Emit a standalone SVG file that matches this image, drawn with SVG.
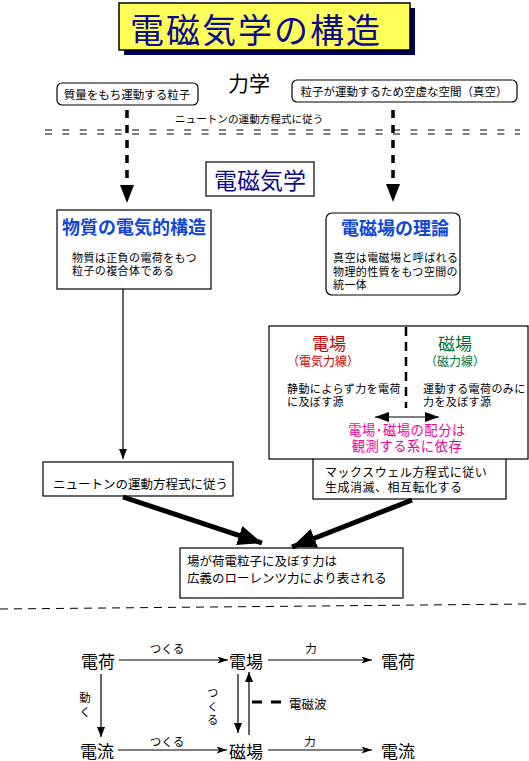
<svg xmlns="http://www.w3.org/2000/svg" width="529" height="761" viewBox="0 0 529 761">
<style>
text{font-family:"Noto Sans CJK JP","Noto Sans CJK SC",sans-serif;fill:#000;dominant-baseline:central}
.box{fill:#fff;stroke:#000;stroke-width:1.2}
.ln{stroke:#000;stroke-width:1.2;fill:none}
.thick{stroke:#000;stroke-width:5;fill:none}
.dv{stroke:#000;stroke-width:3.5;stroke-dasharray:8 7;fill:none}
.hd{font-weight:bold;fill:#1446d6;font-size:18px}
.s11{font-size:11.5px}
.b11{font-size:11px;letter-spacing:0.4px}
.s12{font-size:12.5px}
.m12{font-size:12px;letter-spacing:0.5px}
.big{font-size:17px}
.mg{font-size:13.3px;fill:#f0009a;letter-spacing:0.5px}
</style>
<defs>
<marker id="ah" viewBox="0 0 10 8" refX="10" refY="4" markerWidth="10" markerHeight="8" markerUnits="userSpaceOnUse" orient="auto"><path d="M0,0L10,4L0,8z" fill="#000"/></marker>
<marker id="ahs" viewBox="0 0 12 8" refX="12" refY="4" markerWidth="12" markerHeight="7" markerUnits="userSpaceOnUse" orient="auto"><path d="M0,0L12,4L0,8L3,4z" fill="#000"/></marker>
<marker id="ahb" viewBox="0 0 14 10" refX="14" refY="5" markerWidth="14" markerHeight="10" markerUnits="userSpaceOnUse" orient="auto-start-reverse"><path d="M0,0L14,5L0,10z" fill="#000"/></marker>
<marker id="ahk" viewBox="0 0 24 20" refX="24" refY="10" markerWidth="24" markerHeight="20" markerUnits="userSpaceOnUse" orient="auto"><path d="M0,0L24,10L0,20z" fill="#000"/></marker>
</defs>

<g id="title">
<rect x="124" y="8" width="291" height="47" fill="#000058"/>
<rect x="119" y="3" width="291" height="47" fill="#ffff5a" stroke="#000" stroke-width="1.5"/>
<text x="256" y="28" text-anchor="middle" style="font-size:34px;fill:#0c0c8c;letter-spacing:2px">電磁気学の構造</text>
</g>

<g id="rikigaku">
<text x="249" y="82" text-anchor="middle" style="font-size:21px">力学</text>
</g>

<g id="particle">
<rect class="box" x="57" y="83" width="141" height="22" rx="5"/>
<text class="s11" x="127" y="94" text-anchor="middle">質量をもち運動する粒子</text>
</g>

<g id="vacuum">
<rect class="box" x="292" y="80" width="225" height="22" rx="5"/>
<text class="s11" x="404" y="91" text-anchor="middle">粒子が運動するため空虚な空間（真空）</text>
</g>

<g id="newton-top">
<text x="175" y="118" style="font-size:10.6px">ニュートンの運動方程式に従う</text>
</g>

<g id="separator">
<line x1="45" y1="130" x2="520" y2="130" stroke="#000" stroke-width="1" stroke-dasharray="7 10.4"/>
<line x1="45" y1="134" x2="520" y2="134" stroke="#000" stroke-width="1" stroke-dasharray="7 10.4"/>
</g>

<g id="denjikigaku">
<rect class="box" x="206" y="162" width="108" height="34"/>
<text x="260" y="179" text-anchor="middle" style="font-size:23px;fill:#0c0c8c">電磁気学</text>
</g>

<g id="matter">
<rect class="box" x="57" y="210" width="154" height="79"/>
<text class="hd" x="134" y="226" text-anchor="middle">物質の電気的構造</text>
<text class="b11" x="72" y="256.5">物質は正負の電荷をもつ<tspan x="72" dy="13.5">粒子の複合体である</tspan></text>
</g>

<g id="fieldtheory">
<rect class="box" x="326" y="213" width="134" height="82" rx="6"/>
<text class="hd" x="395" y="227" text-anchor="middle">電磁場の理論</text>
<text class="b11" x="333" y="257">真空は電磁場と呼ばれる<tspan x="333" dy="13.5">物理的性質をもつ空間の</tspan><tspan x="333" dy="13.5">統一体</tspan></text>
</g>

<g id="newton">
<rect class="box" x="43" y="462" width="190" height="34"/>
<text class="s12" x="53" y="483">ニュートンの運動方程式に従う</text>
</g>

<g id="maxwell">
<rect class="box" x="313" y="450" width="193" height="49"/>
<text class="m12" x="325" y="471.5">マックスウェル方程式に従い<tspan x="325" dy="14.5">生成消滅、相互転化する</tspan></text>
</g>

<g id="fields">
<rect class="box" x="269" y="326" width="259" height="133"/>
<line x1="406" y1="327" x2="406" y2="408" stroke="#000" stroke-width="2.5" stroke-dasharray="9 6"/>
<text x="329" y="342" text-anchor="middle" style="font-size:17px;fill:#cc0000">電場<tspan x="323" dy="18" style="font-size:12px">（電気力線）</tspan></text>
<text x="455" y="342" text-anchor="middle" style="font-size:17px;fill:#00703c">磁場<tspan x="455" dy="18" style="font-size:12px">（磁力線）</tspan></text>
<text class="b11" x="287" y="387.5">静動によらず力を電荷<tspan x="287" dy="13.5">に及ぼす源</tspan></text>
<text class="b11" x="423" y="387.5">運動する電荷のみに<tspan x="423" dy="13.5">力を及ぼす源</tspan></text>
<line x1="375" y1="417" x2="439" y2="417" stroke="#000" stroke-width="1.2" marker-start="url(#ahb)" marker-end="url(#ahb)"/>
<text class="mg" x="407" y="429" text-anchor="middle">電場･磁場の配分は<tspan x="407" dy="16.2">観測する系に依存</tspan></text>
</g>

<g id="lorentz">
<rect class="box" x="180" y="548" width="223" height="50"/>
<text class="s12" x="187" y="560">場が荷電粒子に及ぼす力は<tspan x="187" dy="17">広義のローレンツ力により表される</tspan></text>
</g>

<g id="bottom-separator">
<line x1="0" y1="609" x2="529" y2="604" stroke="#000" stroke-width="1" stroke-dasharray="8 6"/>
</g>

<g id="q1"><text class="big" x="98" y="660" text-anchor="middle">電荷</text></g>
<g id="e1"><text class="big" x="246" y="660" text-anchor="middle">電場</text></g>
<g id="q2"><text class="big" x="398" y="660" text-anchor="middle">電荷</text></g>
<g id="i1"><text class="big" x="97" y="750" text-anchor="middle">電流</text></g>
<g id="b1"><text class="big" x="246" y="750" text-anchor="middle">磁場</text></g>
<g id="i2"><text class="big" x="398" y="750" text-anchor="middle">電流</text></g>

<g id="connectors">
<line class="dv" x1="127" y1="110" x2="127" y2="185"/>
<path d="M120,185L134,185L127,203z" fill="#000"/>
<line class="dv" x1="393" y1="110" x2="393" y2="184"/>
<path d="M386,184L400,184L393,202z" fill="#000"/>
<line class="ln" x1="123" y1="289" x2="123" y2="459" marker-end="url(#ah)"/>
<line class="thick" x1="123" y1="497" x2="262" y2="543" marker-end="url(#ahk)"/>
<line class="thick" x1="412" y1="500" x2="292" y2="547" marker-end="url(#ahk)"/>

<line class="ln" x1="119" y1="660" x2="228" y2="660" marker-end="url(#ahs)"/>
<text class="s11" x="167" y="648" text-anchor="middle">つくる</text>
<line class="ln" x1="268" y1="660" x2="372" y2="660" marker-end="url(#ahs)"/>
<text class="s11" x="311" y="648" text-anchor="middle">力</text>
<line class="ln" x1="101" y1="674" x2="101" y2="737" marker-end="url(#ah)"/>
<text class="s11" x="85" y="697" text-anchor="middle">動<tspan x="85" dy="14">く</tspan></text>
<line class="ln" x1="118" y1="750" x2="227" y2="750" marker-end="url(#ahs)"/>
<text class="s11" x="167" y="741" text-anchor="middle">つくる</text>
<line class="ln" x1="268" y1="750" x2="372" y2="750" marker-end="url(#ahs)"/>
<text class="s11" x="310" y="741" text-anchor="middle">力</text>
<line class="ln" x1="238" y1="674" x2="238" y2="733" marker-end="url(#ah)"/>
<line class="ln" x1="249" y1="735" x2="249" y2="672" marker-end="url(#ah)"/>
<text class="b11" x="213" y="692" text-anchor="middle">つ<tspan x="213" dy="13.5">く</tspan><tspan x="213" dy="13.5">る</tspan></text>
<line x1="252" y1="702" x2="281" y2="702" stroke="#000" stroke-width="3" stroke-dasharray="10 9"/>
<text x="289" y="703" style="font-size:12.5px">電磁波</text>
</g>
</svg>
